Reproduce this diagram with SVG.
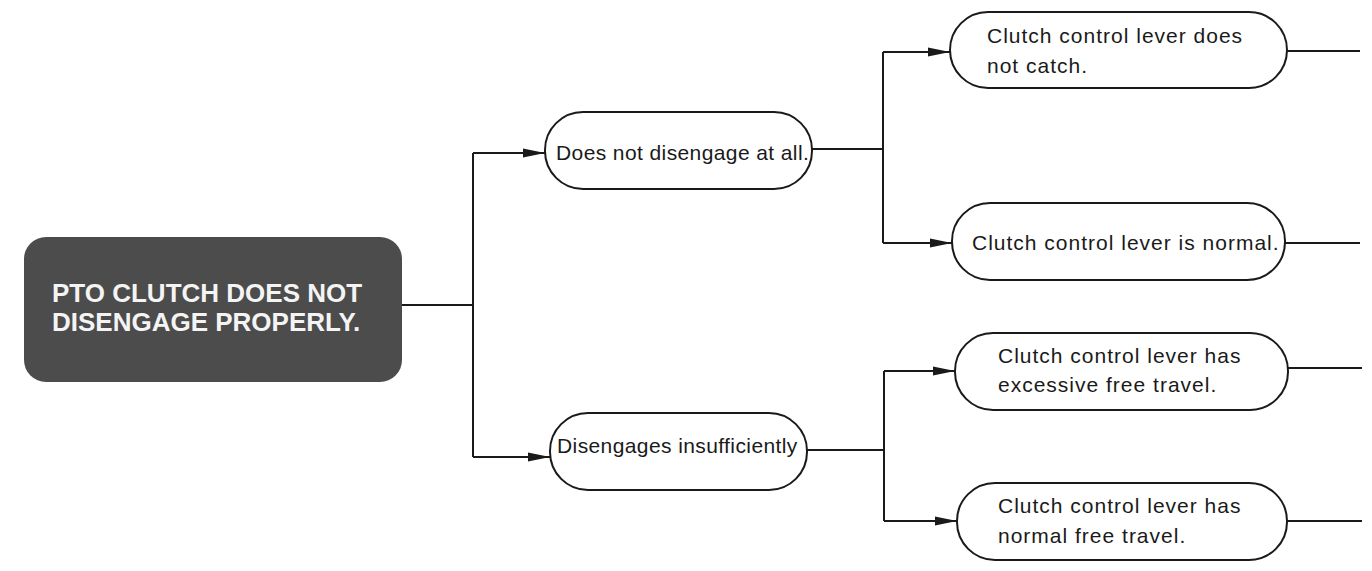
<svg xmlns="http://www.w3.org/2000/svg" width="1372" height="571" viewBox="0 0 1372 571">
  <defs>
    <marker id="arrow" markerUnits="userSpaceOnUse" markerWidth="24" markerHeight="11" refX="22" refY="5.5" orient="auto">
      <path d="M0,1 L22,5.5 L0,10 z" fill="#1a1a1a"/>
    </marker>
  </defs>
  <style>
    .bg { fill: #ffffff; }
    .root { fill: #4c4c4c; }
    .root-text { fill: #f4f4f4; font-family: "Liberation Sans", Arial, sans-serif; font-weight: bold; font-size: 26px; }
    .pill { fill: #ffffff; stroke: #1a1a1a; stroke-width: 2; }
    .label { fill: #1a1a1a; font-family: "Liberation Sans", Arial, sans-serif; font-size: 21px; }
    .mid { letter-spacing: 0.4px; }
    .right { letter-spacing: 1px; }
    .wire { fill: none; stroke: #1a1a1a; stroke-width: 2; }
    .arrowed { marker-end: url(#arrow); }
  </style>

  <rect class="bg" x="0" y="0" width="1372" height="571"/>

  <!-- starting symptom -->
  <g id="node-root">
    <rect class="root" x="24" y="237" width="378" height="145" rx="22" ry="22"/>
    <text class="root-text" x="52" y="302">PTO CLUTCH DOES NOT</text>
    <text class="root-text" x="52" y="331">DISENGAGE PROPERLY.</text>
  </g>

  <!-- first split -->
  <g id="node-no-disengage">
    <rect class="pill" x="545" y="112" width="267" height="77" rx="38" ry="38"/>
    <text class="label mid" x="556" y="160">Does not disengage at all.</text>
  </g>
  <g id="node-insufficient">
    <rect class="pill" x="550" y="413" width="257" height="77" rx="38" ry="38"/>
    <text class="label mid" x="557" y="453">Disengages insufficiently</text>
  </g>

  <!-- second split -->
  <g id="node-not-catch">
    <rect class="pill" x="950" y="12" width="337" height="76" rx="38" ry="38"/>
    <text class="label right" x="987" y="43">Clutch control lever does</text>
    <text class="label right" x="987" y="73">not catch.</text>
  </g>
  <g id="node-lever-normal">
    <rect class="pill" x="952" y="203" width="333" height="77" rx="38" ry="38"/>
    <text class="label right" x="972" y="250">Clutch control lever is normal.</text>
  </g>
  <g id="node-excessive-travel">
    <rect class="pill" x="955" y="333" width="333" height="77" rx="38" ry="38"/>
    <text class="label right" x="998" y="363">Clutch control lever has</text>
    <text class="label right" x="998" y="392">excessive free travel.</text>
  </g>
  <g id="node-normal-travel">
    <rect class="pill" x="957" y="483" width="330" height="77" rx="38" ry="38"/>
    <text class="label right" x="998" y="513">Clutch control lever has</text>
    <text class="label right" x="998" y="543">normal free travel.</text>
  </g>

  <!-- connectors -->
  <g id="connectors">
    <path class="wire" d="M402,305 H473"/>
    <path class="wire" d="M473,153 V457"/>
    <path class="wire arrowed" d="M473,153 H545"/>
    <path class="wire arrowed" d="M473,457 H550"/>

    <path class="wire" d="M812,149 H883"/>
    <path class="wire" d="M883,52 V243"/>
    <path class="wire arrowed" d="M883,52 H950"/>
    <path class="wire arrowed" d="M883,243 H952"/>

    <path class="wire" d="M807,450 H884"/>
    <path class="wire" d="M884,371 V521"/>
    <path class="wire arrowed" d="M884,371 H955"/>
    <path class="wire arrowed" d="M884,521 H957"/>

    <path class="wire" d="M1287,51 H1360"/>
    <path class="wire" d="M1285,243 H1360"/>
    <path class="wire" d="M1288,368 H1362"/>
    <path class="wire" d="M1287,521 H1362"/>
  </g>
</svg>
